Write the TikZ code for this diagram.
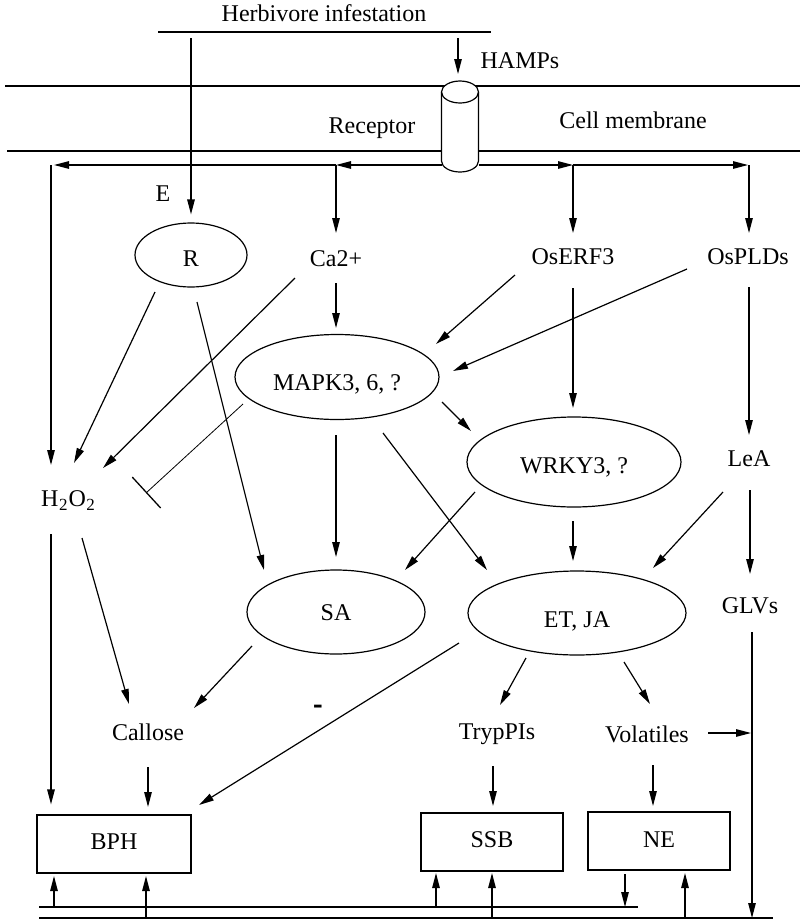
\documentclass[tikz,border=0pt]{standalone}
\usepackage{fontspec}
\setmainfont{Liberation Serif}
\usetikzlibrary{arrows.meta,calc,shapes.geometric}
\newcommand\myfs{\fontsize{24}{28}\selectfont}
\newcommand\subtwo{\raisebox{-4pt}{\fontsize{17}{17}\selectfont 2}}
\tikzset{
  ln/.style={line width=1.2pt},
  arr/.style={line width=1.2pt, -{Triangle[length=15pt,width=7.5pt]}},
  lbl/.style={anchor=base, inner sep=0pt, font=\myfs},
  ell/.style={draw, line width=1.2pt, ellipse, inner sep=0pt, font=\myfs, text depth=0pt},
  box/.style={draw, line width=1.2pt, rectangle, inner sep=0pt, font=\myfs, text depth=0pt},
}
\begin{document}
\begin{tikzpicture}[x=1pt,y=-1pt]
\useasboundingbox (0,0) rectangle (800,919);
\fill[white] (0,0) rectangle (800,919);

% top labels and herbivore line
\node[lbl] (herb) at (324,21) {Herbivore infestation};
\coordinate (hl) at (158,32);
\coordinate (hr) at (491,32);
\draw[line width=2.6pt] (hl) -- (hr);
\node[lbl] (hamps) at (520,68) {HAMPs};
\node[lbl] (recl) at (372,133) {Receptor};
\node[lbl] (cellm) at (633,128) {Cell membrane};
\node[lbl] (E) at (163,201) {E};

% membrane
\draw[ln] (5,86) -- (800,86);
\draw[ln] (7,151) -- (800,151);

% receptor cylinder
\coordinate (cyl) at (460,92);
\filldraw[fill=white, ln] ($(cyl)+(-18.5,0)$) -- ($(cyl)+(-18.5,69)$)
  arc[start angle=180, end angle=360, x radius=18.5pt, y radius=11pt]
  -- ($(cyl)+(18.5,0)$)
  arc[start angle=0, end angle=180, x radius=18.5pt, y radius=11pt] -- cycle;
\draw[ln] ($(cyl)+(-18.5,0)$) arc[start angle=180, end angle=360, x radius=18.5pt, y radius=11pt];

% nodes
\node[ell, minimum width=112pt, minimum height=64pt, text height=22pt] (R) at (191,255) {R};
\node[lbl] (ca) at (336,266) {Ca2+};
\node[lbl] (erf) at (573,264) {OsERF3};
\node[lbl] (pld) at (748,264) {OsPLDs};
\node[ell, minimum width=204pt, minimum height=85pt, text height=26pt] (mapk) at (337,377) {MAPK3, 6, ?};
\node[ell, minimum width=214pt, minimum height=90pt, text height=22pt] (wrky) at (574,462) {WRKY3, ?};
\node[lbl] (lea) at (749,466) {LeA};
\node[lbl] (h2o2) at (68,506) {H\kern0.5pt\subtwo\kern1pt O\kern0.5pt\subtwo};
\node[ell, minimum width=178pt, minimum height=84pt, text height=16pt] (sa) at (336,612) {SA};
\node[ell, minimum width=218pt, minimum height=84pt, text height=28pt] (etja) at (577,613) {ET, JA};
\node[lbl] (glv) at (750,613) {GLVs};
\node[lbl] (callose) at (148,740) {Callose};
\node[lbl] (tryp) at (497,739) {TrypPIs};
\node[lbl] (vol) at (647,742) {Volatiles};
\node[lbl] (minus) at (318,714) {\scalebox{1.2}[1.4]{\bfseries -}};
\node[box, minimum width=154pt, minimum height=58pt, text height=16pt, text depth=6pt] (bph) at (114,844) {BPH};
\node[box, minimum width=142pt, minimum height=58pt, text height=16pt, text depth=6pt] (ssb) at (492,842) {SSB};
\node[box, minimum width=142pt, minimum height=58pt, text height=16pt, text depth=4pt] (ne) at (659,841) {NE};

% bottom lines
\coordinate (b1L) at (39,907);
\coordinate (b1R) at (638,907);
\coordinate (b2L) at (39,918);
\coordinate (b2R) at (773,918);
\draw[ln] (b1L) -- (b1R);
\draw[ln] (b2L) -- (b2R);

% arrows from the herbivore line and HAMPs
\draw[arr] ($(hl)+(33,6)$) -- ($(R.north)+(0,-8)$);
\draw[arr] ($(cyl)+(-2,-54)$) -- ($(cyl)+(-2,-18)$);

% distribution line under the membrane
\coordinate (cl) at ($(cyl)+(-18.5,73)$);
\coordinate (cr) at ($(cyl)+(18.5,73)$);
\coordinate (jl) at (336,165);
\coordinate (jL) at (51,165);
\coordinate (jr) at (573,165);
\coordinate (jR) at (749,165);
\draw[arr] (cl) -- (jl);
\draw[arr] (jl) -- ($(jL)+(3,0)$);
\draw[arr] (cr) -- (jr);
\draw[arr] (jr) -- ($(jR)+(-1,0)$);
\draw[arr] (jL) -- ($(h2o2.base)+(-17,-41)$);
\draw[arr] (jl) -- ($(ca.base)+(0,-33)$);
\draw[arr] (jr) -- ($(erf.base)+(0,-31)$);
\draw[arr] (jR) -- ($(pld.base)+(1,-31)$);

% middle connectors
\draw[arr] ($(R)+(-36,37)$) -- ($(h2o2.base)+(6,-43)$);
\draw[arr] ($(ca.base)+(-41,12)$) -- ($(h2o2.base)+(35,-38)$);
\draw[arr] ($(R)+(6,47)$) -- ($(sa)+(-72,-42)$);
\draw[line width=0.8pt, -{Bar[width=42pt, line width=1.3pt]}] ($(mapk)+(-94,27)$) -- ($(h2o2.base)+(78,-13)$);
\draw[arr] ($(ca.base)+(0,17)$) -- ($(mapk)+(-1,-49)$);
\draw[arr] ($(erf.base)+(-58,11)$) -- ($(mapk)+(99,-33)$);
\draw[arr] ($(pld.base)+(-61,5)$) -- ($(mapk)+(116,-6)$);
\draw[arr] ($(erf.base)+(0,24)$) -- ($(wrky)+(-1,-54)$);
\draw[arr] ($(pld.base)+(1,23)$) -- ($(lea.base)+(0,-31)$);
\draw[arr] ($(mapk)+(105,25)$) -- ($(wrky)+(-103,-31)$);
\draw[arr] ($(mapk)+(-1,58)$) -- ($(sa)+(0,-55)$);
\draw[arr] ($(mapk)+(46,56)$) -- ($(etja)+(-90,-43)$);
\draw[arr] ($(wrky)+(-99,30)$) -- ($(sa)+(69,-42)$);
\draw[arr] ($(wrky)+(-1,59)$) -- ($(etja)+(-4,-52)$);
\draw[arr] ($(lea.base)+(-26,26)$) -- ($(etja)+(76,-45)$);
\draw[arr] ($(lea.base)+(1,24)$) -- ($(glv.base)+(0,-39)$);
\draw[arr] ($(glv.base)+(2,19)$) -- ($(b2R)+(-21,0)$);

% lower connectors
\draw[arr] ($(h2o2.base)+(-17,28)$) -- ($(bph.north)+(-63,-10)$);
\draw[arr] ($(h2o2.base)+(14,32)$) -- ($(callose.base)+(-19,-36)$);
\draw[arr] ($(sa)+(-84,34)$) -- ($(callose.base)+(46,-32)$);
\draw[arr] ($(callose.base)+(0,27)$) -- ($(bph)+(34,-37)$);
\draw[arr] ($(etja)+(-118,30)$) -- ($(bph)+(85,-39)$);
\draw[arr] ($(etja)+(-51,45)$) -- ($(tryp.base)+(3,-34)$);
\draw[arr] ($(etja)+(47,49)$) -- ($(vol.base)+(3,-38)$);
\draw[arr] ($(vol.base)+(61,-9)$) -- ($(glv.base)+(1,120)$);
\draw[arr] ($(tryp.base)+(-4,27)$) -- ($(ssb)+(1,-36)$);
\draw[arr] ($(vol.base)+(6,23)$) -- ($(ne)+(-6,-35)$);

% arrows at the bottom
\draw[arr] ($(b1L)+(15,0)$) -- ($(bph)+(-60,32)$);
\draw[arr] ($(b2L)+(107,0)$) -- ($(bph)+(32,32)$);
\draw[arr] ($(b1L)+(397,0)$) -- ($(ssb)+(-56,31)$);
\draw[arr] ($(b2L)+(453,0)$) -- ($(ssb)+(0,31)$);
\draw[arr] ($(ne)+(-34,33)$) -- ($(b1L)+(586,0)$);
\draw[arr] ($(b2L)+(646,0)$) -- ($(ne)+(26,32)$);
\end{tikzpicture}
\end{document}
